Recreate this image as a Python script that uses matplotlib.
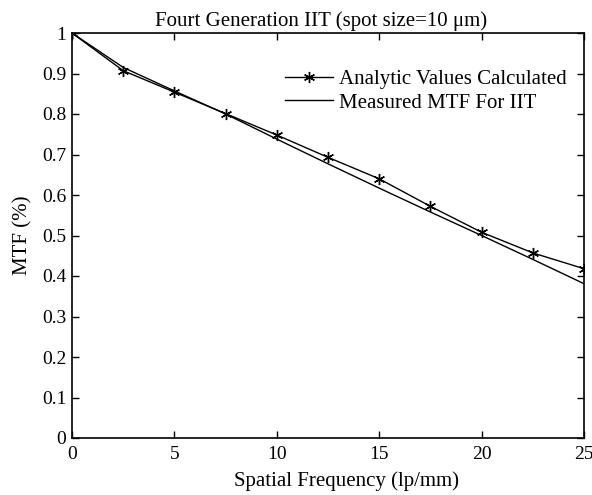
import matplotlib
matplotlib.use("Agg")
import matplotlib.pyplot as plt

freq = [0, 2.5, 5, 7.5, 10, 12.5, 15, 17.5, 20, 22.5, 25]
analytic = [1.0, 0.907, 0.854, 0.801, 0.748, 0.693, 0.640, 0.572, 0.508, 0.457, 0.418]
measured = [1.0, 0.915, 0.857, 0.800, 0.738, 0.677, 0.617, 0.558, 0.500, 0.441, 0.381]

xticks = [0, 5, 10, 15, 20, 25]
yticks = [0, 0.1, 0.2, 0.3, 0.4, 0.5, 0.6, 0.7, 0.8, 0.9, 1]
yticklabels = ["0", "0.1", "0.2", "0.3", "0.4", "0.5", "0.6", "0.7", "0.8", "0.9", "1"]

plt.rcParams['font.family'] = ['Liberation Serif', 'DejaVu Serif']
fs = 15
tfs = 14

fig = plt.figure(figsize=(5.92, 4.95), dpi=100)
ax = fig.add_axes([72/592, 1-438/495, (584-72)/592, (438-33)/495])

ax.plot(freq, analytic, color='black', lw=1.0, marker=(6, 2, 0), ms=8, mew=1.0,
        label='Analytic Values Calculated')
ax.plot(freq, measured, color='black', lw=1.0, label='Measured MTF For IIT')

ax.set_xlim(0, 25)
ax.set_ylim(0, 1)
ax.set_xticks(xticks)
ax.set_xticklabels([str(v) for v in xticks])
ax.set_yticks(yticks)
ax.set_yticklabels(yticklabels)
ax.tick_params(direction='in', top=True, right=True, length=5, width=1.0,
               labelsize=tfs)
ax.tick_params(axis='x', pad=6)
ax.tick_params(axis='y', pad=4)
for s in ax.spines.values():
    s.set_linewidth(1.2)

ax.set_title('Fourt Generation IIT (spot size=10 μm)', fontsize=fs, pad=5,
             x=(321-72)/512)
ax.set_xlabel('Spatial Frequency (lp/mm)', fontsize=fs)
ax.set_ylabel('MTF (%)', fontsize=fs)
ax.xaxis.set_label_coords((346-72)/512, -(471-438)/405)
ax.yaxis.set_label_coords(-(72-32)/512, 0.5)

ax.legend(loc='upper left', bbox_to_anchor=(0.416, 0.91), frameon=False,
          fontsize=fs, handlelength=2.3, handletextpad=0.3, labelspacing=0.2,
          borderpad=0, borderaxespad=0)

fig.savefig('out.png', dpi=100)
